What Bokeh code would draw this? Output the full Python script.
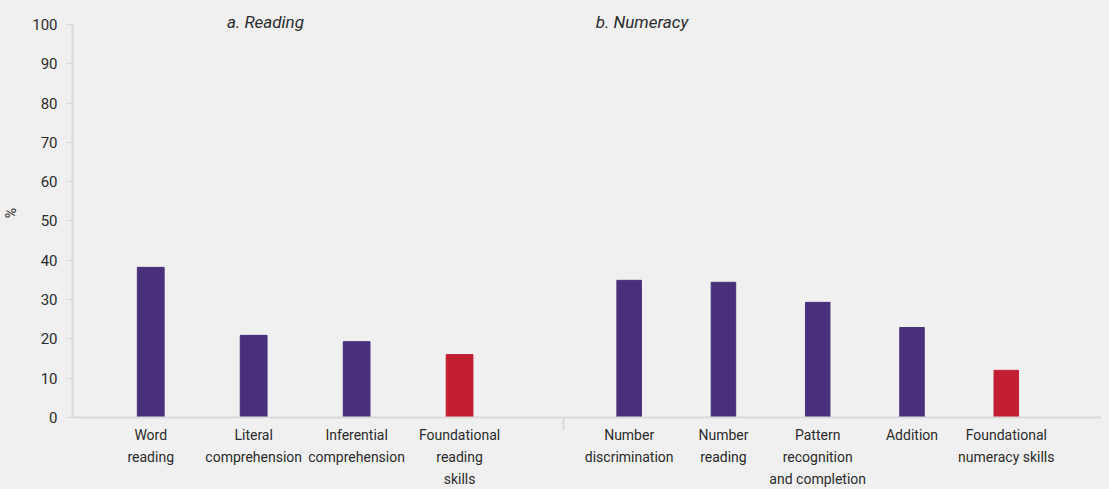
import numpy as np
from bokeh.plotting import figure
from bokeh.layouts import row
from bokeh.models import Range1d, FixedTicker, Label, ColumnDataSource
from bokeh.embed import file_html
from bokeh.resources import INLINE

# ---- data ----
reading_labels = ["Word\nreading", "Literal\ncomprehension", "Inferential\ncomprehension",
                  "Foundational\nreading\nskills"]
reading_values = [38.2, 20.9, 19.3, 16.0]
reading_colors = ["#48307a", "#48307a", "#48307a", "#c21f33"]

numeracy_labels = ["Number\ndiscrimination", "Number\nreading", "Pattern\nrecognition\nand completion",
                   "Addition", "Foundational\nnumeracy skills"]
numeracy_values = [34.9, 34.4, 29.3, 22.9, 12.0]
numeracy_colors = ["#48307a", "#48307a", "#48307a", "#48307a", "#c21f33"]

y_ticks = list(range(0, 101, 10))
panel_titles = ["a. Reading", "b. Numeracy"]

FONT = "Roboto"
BG = "#f0f0f0"
AX = "#d9d9d9"
TXT = "#2b2b2b"

FRAME_H = 409
Y_END = 104.07
STANDOFF = 9
SEP_TICK = 12


def style(p):
    p.background_fill_color = BG
    p.border_fill_color = BG
    p.outline_line_color = None
    p.xgrid.visible = False
    p.ygrid.visible = False
    xa = p.xaxis[0]
    xa.axis_line_color = AX
    xa.axis_line_width = 2
    xa.major_tick_out = 0
    xa.major_tick_in = 0
    xa.minor_tick_in = 0
    xa.minor_tick_out = 0
    xa.major_label_text_font = FONT
    xa.major_label_text_font_size = "14px"
    xa.major_label_text_color = TXT
    xa.major_label_text_line_height = 1.38
    xa.major_label_standoff = STANDOFF


def make_panel(labels, values, colors, x_range, frame_w, left_border, title, with_yaxis):
    idx = np.arange(len(labels))
    src = ColumnDataSource(dict(x=idx, top=values, color=colors))
    p = figure(frame_width=frame_w, frame_height=FRAME_H, output_backend="svg",
               toolbar_location=None,
               x_range=Range1d(*x_range), y_range=Range1d(0, Y_END),
               min_border_left=left_border, min_border_right=0, min_border_top=8,
               min_border_bottom=0, y_axis_location="left" if with_yaxis else None)
    p.vbar(x="x", top="top", width=0.26, bottom=0, color="color", source=src)
    style(p)
    p.xaxis[0].ticker = FixedTicker(ticks=list(idx))
    p.xaxis[0].major_label_overrides = {int(i): lab for i, lab in zip(idx, labels)}
    lab = Label(x=0, y=100.6, text=title,
                text_font=FONT, text_font_size="17px", text_font_style="italic",
                text_color=TXT, text_align="center", text_baseline="alphabetic")
    p.add_layout(lab)
    return p, lab


p1, l1 = make_panel(reading_labels, reading_values, reading_colors, (-0.76, 4.0), 490, 60,
                    panel_titles[0], True)
l1.x = 1.114
ya = p1.yaxis[0]
ya.ticker = FixedTicker(ticks=y_ticks)
ya.bounds = (0, 100)
ya.axis_line_color = AX
ya.axis_line_width = 2
ya.major_tick_out = 6
ya.major_tick_in = 0
ya.major_tick_line_color = AX
ya.minor_tick_out = 0
ya.minor_tick_in = 0
ya.major_label_text_font = FONT
ya.major_label_text_font_size = "15px"
ya.major_label_text_color = TXT
ya.major_label_standoff = 9
ya.axis_label = "%"
ya.axis_label_text_font = FONT
ya.axis_label_text_font_size = "14px"
ya.axis_label_text_font_style = "normal"
ya.axis_label_text_color = TXT
ya.axis_label_standoff = 10

p2, l2 = make_panel(numeracy_labels, numeracy_values, numeracy_colors, (-0.707, 5.01), 539, 0,
                    panel_titles[1], False)
l2.x = 0.136
# separator tick between the two panels, drawn as a single minor tick
xa2 = p2.xaxis[0]
xa2.ticker = FixedTicker(ticks=list(range(len(numeracy_labels))), minor_ticks=[-0.70])
xa2.minor_tick_out = SEP_TICK
xa2.minor_tick_line_color = AX
xa2.minor_tick_line_width = 2
xa2.major_label_standoff = STANDOFF - SEP_TICK

layout = row(p1, p2, spacing=0)
layout.styles = {"background-color": BG}

open("out.html", "w").write(file_html(layout, INLINE).replace(
    "<body>", '<body style="background-color:#f0f0f0;overflow:hidden">'))
